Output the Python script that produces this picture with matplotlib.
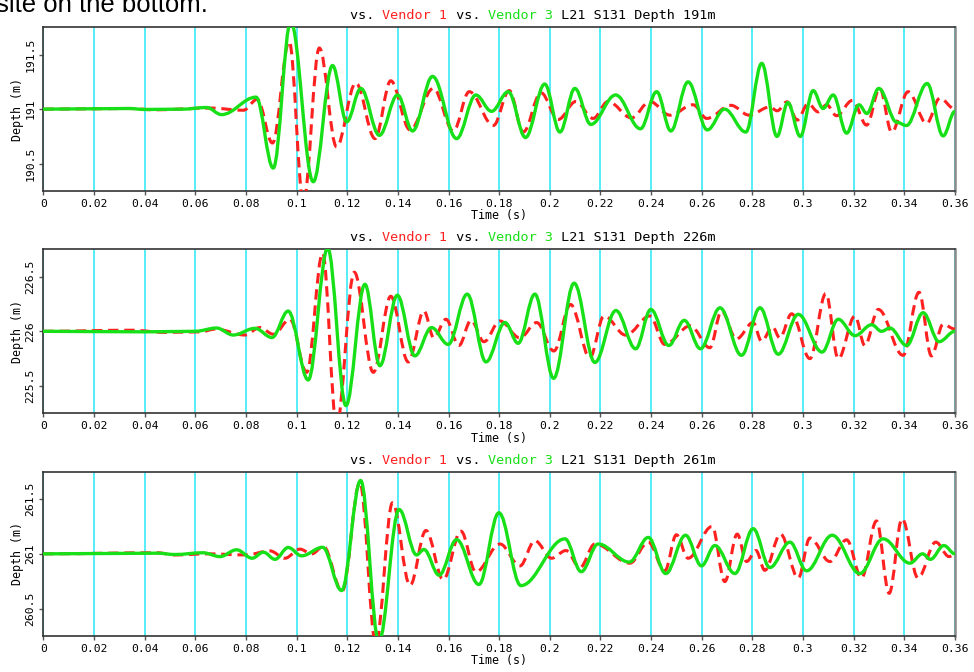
import matplotlib
matplotlib.use('Agg')
import matplotlib.pyplot as plt
from matplotlib.path import Path
from matplotlib.patches import PathPatch

# ---------------- data ----------------
panel_depths = [191, 226, 261]

x_ticks = [0, 0.02, 0.04, 0.06, 0.08, 0.1, 0.12, 0.14, 0.16, 0.18, 0.2,
           0.22, 0.24, 0.26, 0.28, 0.3, 0.32, 0.34, 0.36]
x_tick_labels = ['0', '0.02', '0.04', '0.06', '0.08', '0.1', '0.12', '0.14',
                 '0.16', '0.18', '0.2', '0.22', '0.24', '0.26', '0.28', '0.3',
                 '0.32', '0.34', '0.36']
y_tick_labels = [['190.5', '191', '191.5'],
                 ['225.5', '226', '226.5'],
                 ['260.5', '261', '261.5']]

# Panel 1 (Depth 191 m): Vendor 3 (green) and Vendor 1 (red) extrema
p1_v3_time = [0, 0.034, 0.04, 0.055, 0.0645, 0.0704, 0.084, 0.0908, 0.0977, 0.1066,
              0.1142, 0.1198, 0.1254, 0.1327, 0.1399, 0.1458, 0.1537, 0.1632, 0.1708, 0.177,
              0.1836, 0.1904, 0.198, 0.204, 0.2099, 0.2162, 0.226, 0.2358, 0.2422, 0.2478,
              0.2546, 0.2622, 0.269, 0.2774, 0.2837, 0.2897, 0.294, 0.2989, 0.304, 0.3079,
              0.3119, 0.3172, 0.3221, 0.3252, 0.3299, 0.337, 0.3408, 0.349, 0.3553, 0.36]
p1_v3_depth = [191.0, 191.006, 190.997, 191.0, 191.015, 190.95, 191.11, 190.46, 191.8, 190.335,
               191.40, 190.884, 191.19, 190.76, 191.13, 190.80, 191.30, 190.73, 191.13, 190.98,
               191.16, 190.74, 191.23, 190.79, 191.19, 190.86, 191.13, 190.82, 191.16, 190.80,
               191.25, 190.81, 191.0, 190.79, 191.42, 190.75, 191.06, 190.75, 191.17, 191.006,
               191.13, 190.78, 191.04, 190.96, 191.19, 190.88, 190.85, 191.235, 190.755, 190.98]
p1_v1_time = [0, 0.034, 0.044, 0.066, 0.079, 0.0845, 0.0905, 0.0971, 0.1027, 0.109,
              0.1158, 0.1234, 0.131, 0.1372, 0.1448, 0.154, 0.1619, 0.1682, 0.1777, 0.184,
              0.1895, 0.1965, 0.2033, 0.2103, 0.2171, 0.223, 0.2323, 0.2395, 0.2474, 0.2566,
              0.262, 0.2715, 0.2787, 0.2869, 0.2898, 0.2937, 0.2977, 0.302, 0.306, 0.3093,
              0.3132, 0.3195, 0.3251, 0.3303, 0.335, 0.3415, 0.3488, 0.354, 0.36]
p1_v1_depth = [191.0, 191.006, 190.994, 191.01, 190.99, 191.09, 190.69, 191.62, 190.15, 191.56,
               190.655, 191.24, 190.73, 191.26, 190.81, 191.19, 190.80, 191.16, 190.85, 191.17,
               190.79, 191.15, 190.905, 191.07, 190.915, 191.07, 190.92, 191.07, 190.945, 191.04,
               190.915, 191.035, 190.945, 191.02, 190.985, 191.067, 190.90, 191.05, 190.975, 191.04,
               190.94, 191.08, 190.854, 191.19, 190.79, 191.16, 190.87, 191.10, 191.0]

# Panel 2 (Depth 226 m)
p2_v3_time = [0, 0.04, 0.06, 0.0684, 0.075, 0.0836, 0.0903, 0.0967, 0.1046, 0.1123,
              0.1195, 0.127, 0.1329, 0.1398, 0.1467, 0.1533, 0.1599, 0.1674, 0.1748, 0.1823,
              0.1875, 0.1941, 0.2015, 0.2096, 0.2178, 0.2261, 0.2339, 0.2399, 0.247, 0.2531,
              0.2595, 0.2672, 0.2757, 0.283, 0.2902, 0.2981, 0.3075, 0.3139, 0.3205, 0.3271,
              0.331, 0.3343, 0.3409, 0.3474, 0.3537, 0.36]
p2_v3_depth = [226.0, 225.995, 226.0, 226.03, 225.966, 226.027, 225.943, 226.185, 225.555, 226.76,
               225.32, 226.43, 225.685, 226.33, 225.775, 226.034, 225.88, 226.34, 225.72, 226.08,
               225.89, 226.34, 225.57, 226.44, 225.715, 226.19, 225.84, 226.2, 225.87, 226.10,
               225.84, 226.215, 225.78, 226.215, 225.79, 226.155, 225.81, 226.11, 225.96, 226.06,
               226.0, 226.03, 225.87, 226.17, 225.905, 226.0]
p2_v1_time = [0, 0.035, 0.048, 0.062, 0.068, 0.0796, 0.0855, 0.0909, 0.0974, 0.104,
              0.1103, 0.1158, 0.1228, 0.1303, 0.1372, 0.1441, 0.1503, 0.1542, 0.159, 0.1641,
              0.1689, 0.174, 0.1803, 0.1882, 0.1948, 0.2016, 0.2082, 0.2158, 0.2214, 0.230,
              0.2395, 0.2454, 0.2555, 0.2632, 0.2678, 0.2737, 0.2803, 0.2836, 0.288, 0.2908,
              0.2955, 0.3027, 0.309, 0.3139, 0.3205, 0.3244, 0.3297, 0.3395, 0.3458, 0.3507,
              0.3553, 0.36]
p2_v1_depth = [226.0, 226.01, 225.99, 225.995, 226.02, 225.966, 226.034, 225.973, 226.11, 225.625,
               226.715, 225.15, 226.54, 225.625, 226.32, 225.72, 226.185, 225.94, 226.11, 225.87,
               226.10, 225.905, 226.094, 225.94, 226.08, 225.82, 226.245, 225.76, 226.14, 225.965,
               226.14, 225.88, 226.05, 225.85, 226.185, 225.93, 226.08, 225.91, 226.04, 225.94,
               226.16, 225.75, 226.345, 225.75, 226.14, 225.87, 226.2, 225.78, 226.357, 225.775,
               226.064, 226.02]

# Panel 3 (Depth 261 m)
p3_v3_time = [0, 0.045, 0.052, 0.063, 0.0698, 0.0763, 0.0825, 0.0869, 0.0915, 0.0967,
              0.102, 0.1103, 0.1178, 0.1253, 0.1325, 0.1405, 0.1474, 0.1503, 0.1563, 0.1632,
              0.172, 0.1799, 0.1886, 0.206, 0.2124, 0.2191, 0.2314, 0.2389, 0.2458, 0.2536,
              0.2599, 0.2652, 0.2731, 0.2803, 0.2869, 0.2948, 0.3014, 0.3115, 0.3224, 0.3316,
              0.3422, 0.3472, 0.3503, 0.3556, 0.36]
p3_v3_depth = [261.0, 261.006, 260.994, 261.01, 260.975, 261.037, 260.96, 261.015, 260.95, 261.058,
               260.982, 261.06, 260.665, 261.67, 260.2, 261.405, 260.99, 261.04, 260.805, 261.13,
               260.72, 261.375, 260.71, 261.137, 260.837, 261.09, 260.925, 261.15, 260.82, 261.17,
               260.89, 261.076, 260.82, 261.23, 260.875, 261.107, 260.845, 261.17, 260.82, 261.137,
               260.915, 261.0, 260.95, 261.076, 261.0]
p3_v1_time = [0, 0.045, 0.052, 0.065, 0.08, 0.0895, 0.0954, 0.1013, 0.106, 0.1106,
              0.118, 0.125, 0.1313, 0.1379, 0.1448, 0.1511, 0.1579, 0.1649, 0.1708, 0.1803,
              0.1882, 0.1941, 0.2007, 0.2064, 0.2119, 0.2178, 0.2316, 0.2389, 0.2454, 0.25,
              0.2546, 0.2641, 0.2691, 0.274, 0.2777, 0.2814, 0.2849, 0.2911, 0.2981, 0.3027,
              0.3106, 0.3172, 0.3231, 0.329, 0.334, 0.3391, 0.3454, 0.3524, 0.3577, 0.36]
p3_v1_depth = [261.0, 261.01, 260.99, 261.0, 260.99, 261.027, 260.96, 261.043, 261.0, 261.067,
               260.66, 261.65, 260.18, 261.466, 260.713, 261.213, 260.765, 261.207, 260.835, 261.09,
               260.89, 261.12, 260.96, 261.03, 260.875, 261.09, 260.915, 261.107, 260.845, 261.174,
               260.96, 261.25, 260.747, 261.18, 260.93, 261.03, 260.85, 261.18, 260.78, 261.144,
               260.93, 261.128, 260.78, 261.3, 260.64, 261.32, 260.78, 261.107, 260.975, 261.0]

vendor3_series = [(p1_v3_time, p1_v3_depth), (p2_v3_time, p2_v3_depth), (p3_v3_time, p3_v3_depth)]
vendor1_series = [(p1_v1_time, p1_v1_depth), (p2_v1_time, p2_v1_depth), (p3_v1_time, p3_v1_depth)]

# ---------------- style ----------------
FONT = ['DejaVu Sans Mono']
RED = '#FF2020'
GREEN = '#18E018'
CYAN = '#48ECF8'

W, H = 974, 672
fig = plt.figure(figsize=(W / 100, H / 100), dpi=100)

# axes boxes in pixels: (left, top, right, bottom)
boxes = [(43.3, 27.3, 955, 191), (43.3, 249.3, 955, 413.3), (43.3, 471.7, 955, 636)]


def smooth_curve(ax, ts, ds, **kw):
    """Smooth curve through the read extrema (flat tangents at each point)."""
    k = 0.3642
    verts = [(ts[0], ds[0])]
    codes = [Path.MOVETO]
    for (t0, d0), (t1, d1) in zip(zip(ts, ds), zip(ts[1:], ds[1:])):
        h = (t1 - t0) * k
        verts += [(t0 + h, d0), (t1 - h, d1), (t1, d1)]
        codes += [Path.CURVE4] * 3
    patch = PathPatch(Path(verts, codes), fill=False, **kw)
    ax.add_patch(patch)
    return patch


for i, (l, t, r, b) in enumerate(boxes):
    ax = fig.add_axes([l / W, 1 - b / H, (r - l) / W, (b - t) / H])
    base = panel_depths[i]

    vt, vd = vendor1_series[i]
    smooth_curve(ax, vt, vd, edgecolor=RED, linewidth=2.2,
                 linestyle=(0, (3.4, 1.9)), zorder=3)
    gt, gd = vendor3_series[i]
    smooth_curve(ax, gt, gd, edgecolor=GREEN, linewidth=2.4, zorder=4,
                 joinstyle='round', capstyle='round')

    ax.set_xlim(x_ticks[0], x_ticks[-1])
    ax.set_ylim(base - 0.75, base + 0.75)

    ax.set_xticks(x_ticks)
    ax.set_xticklabels(x_tick_labels, fontsize=8.2, family=FONT)
    ax.set_yticks([base - 0.5, base, base + 0.5])
    ax.set_yticklabels(y_tick_labels[i], fontsize=8.2, family=FONT,
                       rotation=90, va='center')
    ax.tick_params(direction='out', length=3, width=1, color='#555555', pad=2.5)

    ax.grid(True, axis='x', color=CYAN, linewidth=1.3)
    ax.set_axisbelow(True)

    for side in ['left', 'bottom', 'top']:
        ax.spines[side].set_color('#333333')
        ax.spines[side].set_linewidth(1.2)
    ax.spines['right'].set_color('#8a8a8a')
    ax.spines['right'].set_linewidth(1.8)

    ax.set_xlabel('Time (s)', fontsize=8.4, family=FONT, labelpad=0.5)
    ax.set_ylabel('Depth (m)', fontsize=8.4, family=FONT, labelpad=1)

    # multi-coloured title
    start = (350 - l) / (r - l)
    pieces = [('vs. ', 'black'), ('Vendor 1', RED), (' vs. ', 'black'),
              ('Vendor 3', GREEN), (' L21 S131 Depth %dm' % base, 'black')]
    prev = None
    for txt, col in pieces:
        if prev is None:
            prev = ax.annotate(txt, xy=(start, 1), xycoords='axes fraction',
                               xytext=(0, 3.6), textcoords='offset points',
                               ha='left', va='bottom', color=col,
                               fontsize=9.7, family=FONT)
        else:
            prev = ax.annotate(txt, xy=(1, 0), xycoords=prev,
                               ha='left', va='bottom', color=col,
                               fontsize=9.7, family=FONT)

# cropped text of the surrounding document at the very top (cut off in the reference too)
fig.text(-0.004, 1 - 11.5 / H, 'site on the bottom.', fontsize=18.5,
         family=['Liberation Sans', 'DejaVu Sans'], va='baseline', ha='left')

fig.savefig('out.png', dpi=100)
